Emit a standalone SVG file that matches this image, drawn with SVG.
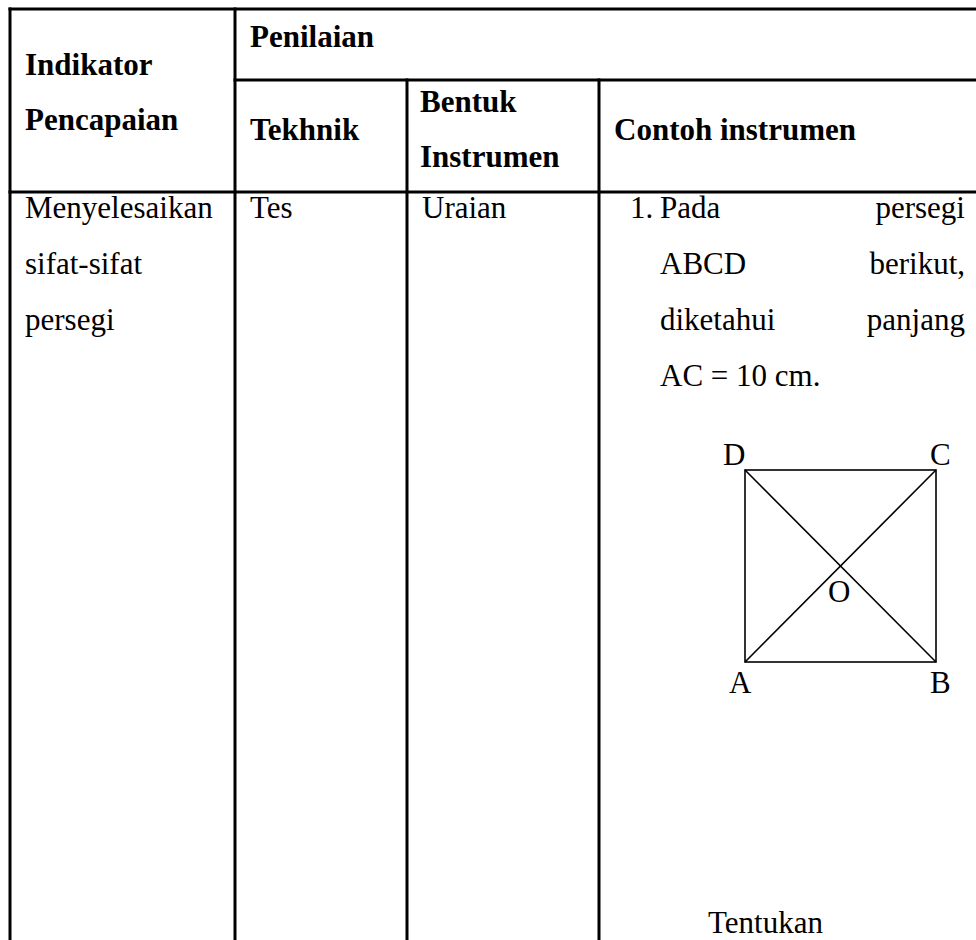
<svg xmlns="http://www.w3.org/2000/svg" width="976" height="940" viewBox="0 0 976 940">
<style>
.grid{stroke:#000;stroke-width:3;fill:none;stroke-linecap:square}
.fig{stroke:#000;stroke-width:1.6;fill:none}
.h{font-family:"Liberation Serif","Times New Roman",serif;font-weight:bold;font-size:31px;fill:#000}
.t{font-family:"Liberation Serif","Times New Roman",serif;font-size:31px;fill:#000}
.e{text-anchor:end}
</style>
<rect width="976" height="940" fill="#fff"/>
<g id="table-lines">
<line class="grid" x1="10" y1="9" x2="976" y2="9"/>
<line class="grid" x1="10" y1="9" x2="10" y2="940"/>
<line class="grid" x1="235" y1="9" x2="235" y2="940"/>
<line class="grid" x1="235" y1="80" x2="976" y2="80"/>
<line class="grid" x1="407" y1="80" x2="407" y2="940"/>
<line class="grid" x1="599" y1="80" x2="599" y2="940"/>
<line class="grid" x1="10" y1="192" x2="976" y2="192"/>
</g>
<g id="header">
<text class="h" x="25" y="75">Indikator</text>
<text class="h" x="25" y="130">Pencapaian</text>
<text class="h" x="250" y="47">Penilaian</text>
<text class="h" x="250" y="140">Tekhnik</text>
<text class="h" x="420" y="112">Bentuk</text>
<text class="h" x="420" y="167">Instrumen</text>
<text class="h" x="614" y="140">Contoh instrumen</text>
</g>
<g id="col-indikator">
<text class="t" x="25" y="218">Menyelesaikan</text>
<text class="t" x="25" y="274">sifat-sifat</text>
<text class="t" x="25" y="330">persegi</text>
</g>
<g id="col-tekhnik"><text class="t" x="250" y="218">Tes</text></g>
<g id="col-bentuk"><text class="t" x="422" y="218">Uraian</text></g>
<g id="col-contoh">
<text class="t" x="630" y="218">1.</text>
<text class="t" x="660" y="218">Pada</text>
<text class="t e" x="965" y="218">persegi</text>
<text class="t" x="660" y="274">ABCD</text>
<text class="t e" x="965" y="274">berikut,</text>
<text class="t" x="660" y="330">diketahui</text>
<text class="t e" x="965" y="330">panjang</text>
<text class="t" x="660" y="386">AC = 10 cm.</text>
<text class="t" x="708" y="933">Tentukan</text>
</g>
<g id="square-figure">
<rect class="fig" x="745" y="470" width="191" height="192"/>
<line class="fig" x1="745" y1="470" x2="936" y2="662"/>
<line class="fig" x1="745" y1="662" x2="936" y2="470"/>
<text class="t" x="723" y="465">D</text>
<text class="t" x="930" y="465">C</text>
<text class="t" x="828" y="602">O</text>
<text class="t" x="729" y="693">A</text>
<text class="t" x="930" y="693">B</text>
</g>
</svg>
